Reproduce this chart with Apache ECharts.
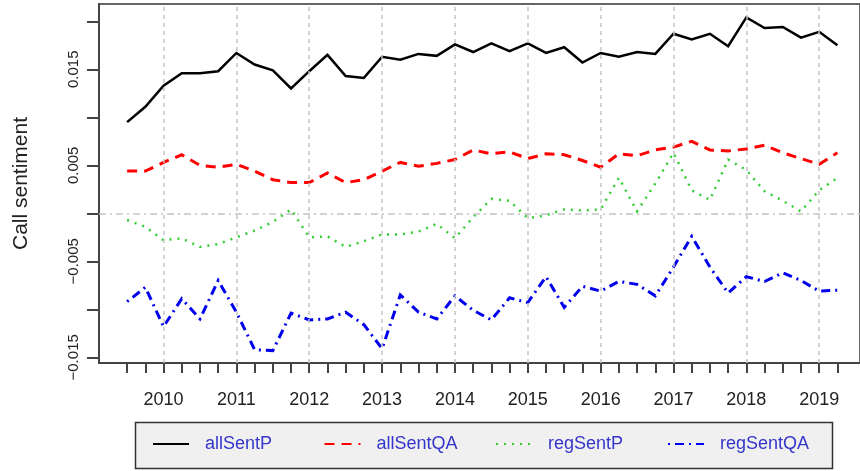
<!DOCTYPE html>
<html>
<head>
<meta charset="utf-8">
<script src="https://cdn.jsdelivr.net/npm/echarts@6/dist/echarts.min.js"></script>
<style>
html,body{margin:0;padding:0;background:#fff;}
#chart{width:860px;height:471px;}
</style>
</head>
<body>
<div id="chart"></div>
<script>
// quarterly time points (decimal years)
const quarters = [2009.5, 2009.75, 2010.0, 2010.25, 2010.5, 2010.75, 2011.0, 2011.25, 2011.5, 2011.75,
  2012.0, 2012.25, 2012.5, 2012.75, 2013.0, 2013.25, 2013.5, 2013.75, 2014.0, 2014.25,
  2014.5, 2014.75, 2015.0, 2015.25, 2015.5, 2015.75, 2016.0, 2016.25, 2016.5, 2016.75,
  2017.0, 2017.25, 2017.5, 2017.75, 2018.0, 2018.25, 2018.5, 2018.75, 2019.0, 2019.25];

const allSentP = [0.0095, 0.0111, 0.0133, 0.0146, 0.0146, 0.0148, 0.0167, 0.0155, 0.0149, 0.0130,
  0.0148, 0.0165, 0.0143, 0.0141, 0.0163, 0.0160, 0.0166, 0.0164, 0.0176, 0.0168,
  0.0177, 0.0169, 0.0177, 0.0167, 0.0173, 0.0157, 0.0167, 0.0163, 0.0168, 0.0166,
  0.0187, 0.0181, 0.0187, 0.0174, 0.0204, 0.0193, 0.0194, 0.0183, 0.0189, 0.0175];

const allSentQA = [0.0044, 0.0044, 0.0053, 0.0061, 0.0050, 0.0048, 0.0051, 0.0044, 0.0035, 0.0032,
  0.0032, 0.0042, 0.0032, 0.0035, 0.0044, 0.0053, 0.0049, 0.0052, 0.0056, 0.0066,
  0.0062, 0.0064, 0.0057, 0.0062, 0.0061, 0.0055, 0.0048, 0.0062, 0.0060, 0.0066,
  0.0069, 0.0075, 0.0066, 0.0065, 0.0067, 0.0071, 0.0063, 0.0057, 0.0051, 0.0063];

const regSentP = [-0.0007, -0.0014, -0.0028, -0.0026, -0.0035, -0.0032, -0.0025, -0.0018, -0.0009, 0.0004,
  -0.0025, -0.0024, -0.0035, -0.0029, -0.0022, -0.0022, -0.0019, -0.0011, -0.0026, -0.0004,
  0.0015, 0.0013, -0.0005, -0.0002, 0.0004, 0.0003, 0.0004, 0.0037, 0.0002, 0.0031,
  0.0063, 0.0024, 0.0014, 0.0056, 0.0045, 0.0023, 0.0013, 0.0002, 0.0024, 0.0037];

const regSentQA = [-0.0092, -0.0077, -0.0118, -0.0089, -0.0110, -0.0070, -0.0103, -0.0142, -0.0143, -0.0104,
  -0.0111, -0.0110, -0.0103, -0.0116, -0.0141, -0.0085, -0.0103, -0.0110, -0.0086, -0.0101,
  -0.0111, -0.0088, -0.0093, -0.0066, -0.0098, -0.0076, -0.0081, -0.0071, -0.0074, -0.0086,
  -0.0056, -0.0024, -0.0056, -0.0083, -0.0066, -0.0071, -0.0062, -0.0070, -0.0081, -0.0080];

const seriesNames = ['allSentP', 'allSentQA', 'regSentP', 'regSentQA'];
const yearLabels = [2010, 2011, 2012, 2013, 2014, 2015, 2016, 2017, 2018, 2019];
const yTicks = [-0.015, -0.01, -0.005, 0, 0.005, 0.01, 0.015, 0.02];
const yLabels = [-0.015, -0.005, 0.005, 0.015];
const zeroLine = [0];

const FONT = '"Liberation Sans", Arial, sans-serif';

function pairs(vals) { return quarters.map((q, i) => [q, vals[i]]); }

const styles = [
  { color: '#000000', width: 2.5, type: 'solid' },
  { color: '#ff0000', width: 3, type: [10, 7] },
  { color: '#33cc33', width: 2.5, type: [2, 6] },
  { color: '#0000ee', width: 3, type: [2, 5, 9, 5] }
];
const valuesList = [allSentP, allSentQA, regSentP, regSentQA];

const legendLefts = [152, 323.5, 495, 667];

const chart = echarts.init(document.getElementById('chart'), null, { renderer: 'canvas' });

const series = [{
  name: 'grid',
  type: 'line',
  data: [],
  z: 1,
  silent: true,
  markLine: {
    silent: true,
    symbol: 'none',
    label: { show: false },
    animation: false,
    data: yearLabels.map(y => ({ xAxis: y, lineStyle: { color: '#c4c4c4', width: 1.5, type: [4, 4] } }))
      .concat(zeroLine.map(v => ({ yAxis: v, lineStyle: { color: '#c4c4c4', width: 1.5, type: [7, 4, 2, 4] } })))
  }
}].concat(seriesNames.map((n, i) => ({
  name: n,
  type: 'line',
  data: pairs(valuesList[i]),
  symbol: 'none',
  showSymbol: false,
  z: 3,
  animation: false,
  lineStyle: { color: styles[i].color, width: styles[i].width, type: styles[i].type, cap: 'butt', join: 'miter' },
  itemStyle: { color: styles[i].color }
})));

const option = {
  animation: false,
  backgroundColor: '#ffffff',
  textStyle: { fontFamily: FONT },
  grid: {
    left: 99, top: 4, right: -5, bottom: 108,
    show: true, borderColor: '#666', borderWidth: 2, backgroundColor: 'transparent'
  },
  xAxis: {
    type: 'value',
    min: 2009.114,
    max: 2019.56,
    axisLine: { show: true, onZero: false, lineStyle: { color: '#444', width: 2 } },
    axisTick: { show: true, customValues: quarters, length: 10, lineStyle: { color: '#444', width: 2 } },
    axisLabel: {
      show: true, customValues: yearLabels, margin: 28,
      fontSize: 18, color: '#222', fontFamily: FONT,
      formatter: v => String(Math.round(v))
    },
    splitLine: { show: false }
  },
  yAxis: {
    type: 'value',
    min: -0.01559,
    max: 0.0218,
    name: 'Call sentiment',
    nameLocation: 'middle',
    nameGap: 67,
    nameRotate: 90,
    nameTextStyle: { fontSize: 21, color: '#222', fontFamily: FONT },
    axisLine: { show: true, lineStyle: { color: '#444', width: 2 } },
    axisTick: { show: true, customValues: yTicks, length: 12, lineStyle: { color: '#444', width: 2 } },
    axisLabel: {
      show: true, customValues: yLabels, rotate: 90, margin: 18,
      fontSize: 15, color: '#222', fontFamily: FONT,
      formatter: v => (v < 0 ? '\u2212' : '') + Math.abs(v).toFixed(3)
    },
    splitLine: { show: false }
  },
  graphic: [{
    type: 'rect',
    shape: { x: 135.5, y: 422.5, width: 697, height: 46 },
    style: { fill: '#f0f0f0', stroke: '#333', lineWidth: 1.5 },
    z: -10
  }],
  legend: seriesNames.map((n, i) => ({
    data: [n],
    left: legendLefts[i],
    top: 435,
    padding: 0,
    itemWidth: 36,
    itemHeight: 14,
    selectedMode: false,
    itemStyle: { color: 'rgba(0,0,0,0)', borderColor: 'rgba(0,0,0,0)', borderWidth: 0, opacity: 0 },
    textStyle: { fontSize: 18, color: '#3535cc', fontFamily: FONT, padding: [0, 0, 0, 11] }
  })),
  series: series
};

chart.setOption(option);
</script>
</body>
</html>
